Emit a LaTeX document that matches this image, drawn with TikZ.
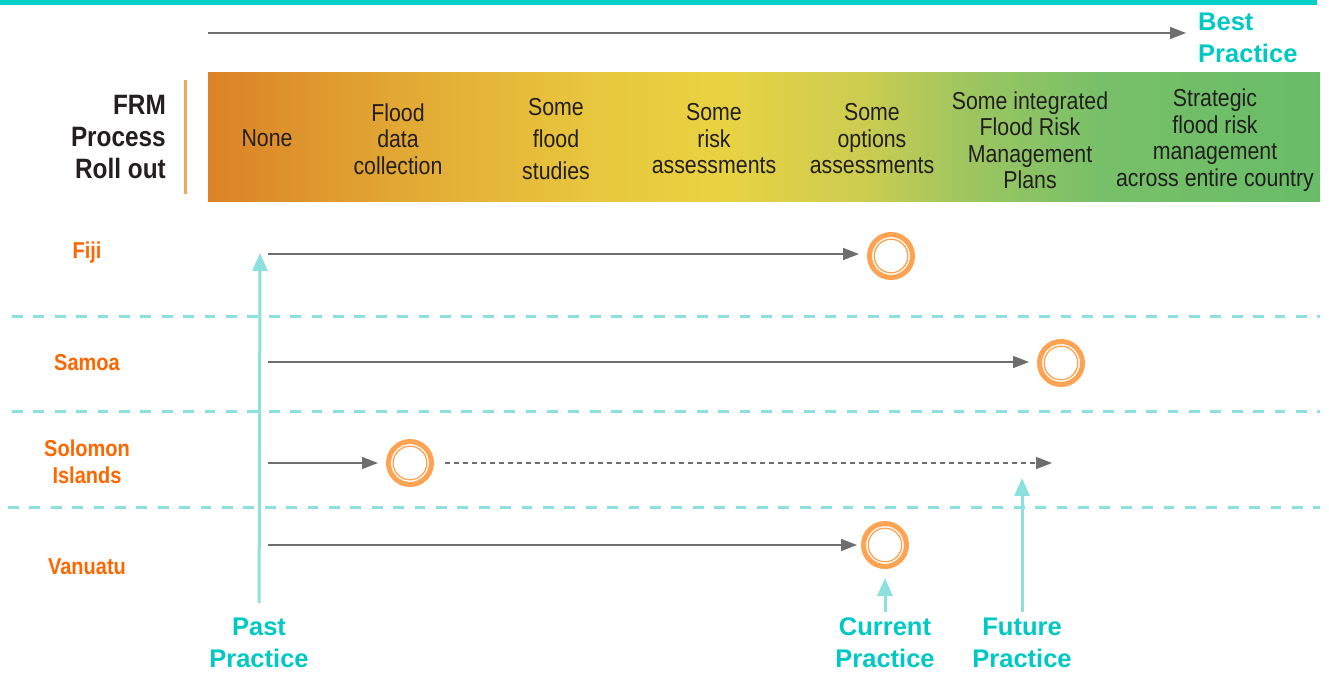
\documentclass[tikz,border=0pt]{standalone}
\usepackage{fontspec}
\setmainfont{Liberation Sans}[FakeStretch=0.87]
\newfontfamily\widefont{Liberation Sans}
\usetikzlibrary{arrows.meta}
\definecolor{barteal}{RGB}{0,206,200}
\definecolor{lineteal}{RGB}{140,224,222}
\definecolor{tealtext}{RGB}{0,200,195}
\definecolor{landorange}{RGB}{255,102,0}
\definecolor{ringorange}{RGB}{255,163,82}
\definecolor{rulerorange}{RGB}{247,165,90}
\definecolor{arrowgray}{RGB}{110,110,110}
\definecolor{ink}{RGB}{35,31,32}
\pgfdeclarehorizontalshading{frmband}{100bp}{rgb(0bp)=(0.86,0.51,0.15); rgb(25bp)=(0.86,0.51,0.15); rgb(33.6bp)=(0.886,0.659,0.204); rgb(42.6bp)=(0.91,0.784,0.243); rgb(48bp)=(0.914,0.824,0.255); rgb(54.3bp)=(0.804,0.804,0.314); rgb(58.8bp)=(0.627,0.776,0.373); rgb(65.1bp)=(0.47,0.753,0.41); rgb(75bp)=(0.408,0.737,0.408); rgb(100bp)=(0.408,0.737,0.408)}
\tikzset{
  stage/.style={align=center, inner sep=0pt, text=ink, font=\fontsize{24.5}{26.5}\selectfont},
  rollout/.style={align=right, inner sep=0pt, text=ink, font=\bfseries\fontsize{28}{32}\selectfont},
  country/.style={align=center, inner sep=0pt, text=landorange, font=\bfseries\fontsize{23}{27}\selectfont},
  practice/.style={align=center, inner sep=0pt, text=tealtext, font=\widefont\bfseries\fontsize{25.5}{32}\selectfont},
  ring/.style={circle, draw=ringorange, line width=5pt, minimum size=43pt, inner sep=0pt},
  flow/.style={draw=arrowgray, line width=1.5pt, -{Triangle[length=16pt,width=12pt]}, shorten >=8pt},
  rise/.style={draw=lineteal, line width=3pt, -{Triangle[length=18pt,width=15pt]}},
  lane/.style={draw=lineteal, line width=3pt, dash pattern=on 10.7pt off 10.7pt}
}
\begin{document}
\begin{tikzpicture}[x=1pt, y=-1pt]
  \useasboundingbox (0,0) rectangle (1329,673);
  \fill[barteal] (0,0) rectangle (1317,5);
  \shade[shading=frmband] (208,72) rectangle (1320,201);
  \draw[rulerorange, line width=3pt] (185,80) -- (185,194);
  \draw[lane] (12,316) -- (1320,316);
  \draw[lane] (12,411) -- (1320,411);
  \draw[lane] (8,507) -- (1320,507);
  \path
    (166,137) node[rollout, anchor=east] (frm) {FRM\\Process\\Roll out}
    (267,138) node[stage] (none) {None}
    (398,139) node[stage] (data) {Flood\\data\\collection}
    (556,139) node[stage, font=\fontsize{24.5}{32}\selectfont] (studies) {Some\\flood\\studies}
    (714,139) node[stage] (risk) {Some\\risk\\assessments}
    (872,139) node[stage] (options) {Some\\options\\assessments}
    (1030,140) node[stage] (plans) {Some integrated\\Flood Risk\\Management\\Plans}
    (1215,140) node[stage] (strategic) {Strategic\\flood risk\\management\\across entire country}
    (1198,38) node[practice, align=left, anchor=west] (best) {Best\\Practice}
    (87,253) node[country] (fiji) {Fiji}
    (87,363) node[country] (samoa) {Samoa}
    (87,462) node[country] (solomon) {Solomon\\Islands}
    (87,567) node[country] (vanuatu) {Vanuatu}
    (891,256) node[ring] (fijiC) {}
    (1061,363) node[ring] (samC) {}
    (410,463) node[ring] (solC) {}
    (885,545) node[ring] (vanC) {}
    (259,643) node[practice] (past) {Past\\Practice}
    (885,643) node[practice] (cur) {Current\\Practice}
    (1022,643) node[practice] (fut) {Future\\Practice};
  \coordinate (topS) at (208,33);
  \coordinate (fijiS) at (268,254);
  \coordinate (samS) at (268,362);
  \coordinate (solS) at (268,463);
  \coordinate (solE) at (1052,463);
  \coordinate (vanS) at (268,545);
  \coordinate (pastTop) at (260,253);
  \coordinate (futTop) at (1022,478);
  \foreach \r in {fijiC,samC,solC,vanC}
    \draw[ringorange, line width=1.3pt] (\r.center) circle (16.8pt);
  \begin{scope}
    \draw[flow, shorten >=12pt] (topS) -- (topS -| best.west);
    \draw[flow] (fijiS) -- (fijiS -| fijiC.west);
    \draw[flow] (samS) -- (samS -| samC.west);
    \draw[flow] (solS) -- (solS -| solC.west);
    \draw[flow, shorten >=0pt, shorten <=11pt, line width=1.2pt, dash pattern=on 5pt off 4pt] (solC) -- (solE);
    \draw[flow, shorten >=4pt] (vanS) -- (vanS -| vanC.west);
    \draw[rise, shorten <=15pt] (past) -- (pastTop);
    \draw[rise, shorten <=6pt, shorten >=9pt] (cur) -- (vanC);
    \draw[rise, shorten <=6pt] (fut) -- (futTop);
  \end{scope}
\end{tikzpicture}
\end{document}
